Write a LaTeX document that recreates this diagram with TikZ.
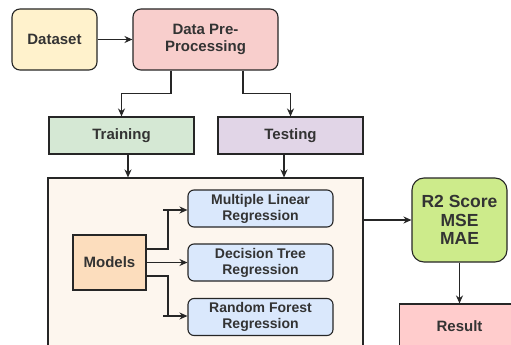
\documentclass[tikz,border=0pt]{standalone}
\usepackage{fontspec}
\setmainfont{Liberation Sans}
\usetikzlibrary{arrows.meta,calc}
\definecolor{txt}{HTML}{333333}
\definecolor{cData}{HTML}{FFF2CC}
\definecolor{cPre}{HTML}{F8CECC}
\definecolor{cTrain}{HTML}{D5E8D4}
\definecolor{cTest}{HTML}{E1D5E7}
\definecolor{cBig}{HTML}{FDF6EE}
\definecolor{cModels}{HTML}{FCDDBD}
\definecolor{cReg}{HTML}{DAE8FC}
\definecolor{cScore}{HTML}{CDEB8B}
\definecolor{cResult}{HTML}{FFCCCC}
\tikzset{
  box/.style={draw=black!85, line width=1.1pt, text=txt, align=center, inner sep=0pt,
    font=\fontsize{15}{17}\selectfont\bfseries},
  smallbox/.style={box, font=\fontsize{14}{16}\selectfont\bfseries},
  conn/.style={draw=black!85, line width=1.1pt},
  arr/.style={conn, -{Stealth[length=8pt,width=7pt]}},
}
\begin{document}
\begin{tikzpicture}[x=1pt,y=-1pt]
\useasboundingbox (0,0) rectangle (511,345);
\clip (0,0) rectangle (511,345);
\fill[white] (0,0) rectangle (511,345);
% top row
\node[box, fill=cData, rounded corners=8pt, minimum width=85pt, minimum height=61pt] (data) at (54.5,39.5) {Dataset};
\node[box, fill=cPre, rounded corners=8pt, minimum width=145pt, minimum height=61pt] (pre) at (205.5,39.5) {Data Pre-\\Processing};
% training / testing
\node[box, fill=cTrain, minimum width=145pt, minimum height=37pt] (train) at (121.5,135.5) {Training};
\node[box, fill=cTest, minimum width=145pt, minimum height=37pt] (test) at (290.5,135.5) {Testing};
% big container
\node[box, fill=cBig, minimum width=315pt, minimum height=190pt] (big) at (205.5,273) {};
\node[box, fill=cModels, minimum width=73pt, minimum height=55pt] (models) at (109.5,262.5) {Models};
\node[smallbox, fill=cReg, rounded corners=6pt, minimum width=145pt, minimum height=37pt] (mlr) at (260.5,208.5) {Multiple Linear\\Regression};
\node[smallbox, fill=cReg, rounded corners=6pt, minimum width=145pt, minimum height=37pt] (dtr) at (260.5,262.5) {Decision Tree\\Regression};
\node[smallbox, fill=cReg, rounded corners=6pt, minimum width=145pt, minimum height=37pt] (rfr) at (260.5,317) {Random Forest\\Regression};
% right column
\node[box, fill=cScore, rounded corners=12pt, minimum width=95pt, minimum height=84pt,
  font=\fontsize{17.5}{18.5}\selectfont\bfseries] (score) at (459.5,220) {R2 Score\\MSE\\MAE};
\node[box, fill=cResult, minimum width=120pt, minimum height=50pt] (result) at (459.5,329) {};
\node[text=txt, font=\fontsize{15}{17}\selectfont\bfseries] (resulttxt) at (459.5,326) {Result};
% connectors
\draw[arr] (data) -- (pre);
\draw[arr] ([xshift=-34.5]pre.south) -- ++(0,23) -| (train.north);
\draw[arr] ([xshift=37.5]pre.south) -- ++(0,23) -| (test.north);
\draw[arr] ([xshift=6.5]train.south) -- ([xshift=6.5]train.south |- big.north);
\draw[arr] ([xshift=-6.5]test.south) -- ([xshift=-6.5]test.south |- big.north);
\coordinate (j1) at (168,210);
\coordinate (j2) at (168,316);
\draw[conn] ([yshift=13.5]models.east) -| (j1);
\draw[arr] ([xshift=-5]j1) -- (j1 -| mlr.west);
\draw[arr] (models.east) -- (dtr.west);
\draw[conn] ([yshift=-13.5]models.east) -| (j2);
\draw[arr] ([xshift=-5]j2) -- (j2 -| rfr.west);
\draw[arr] (big.east |- score.west) -- (score.west);
\draw[arr] (score.south) -- (score.south |- result.north);
\end{tikzpicture}
\end{document}
